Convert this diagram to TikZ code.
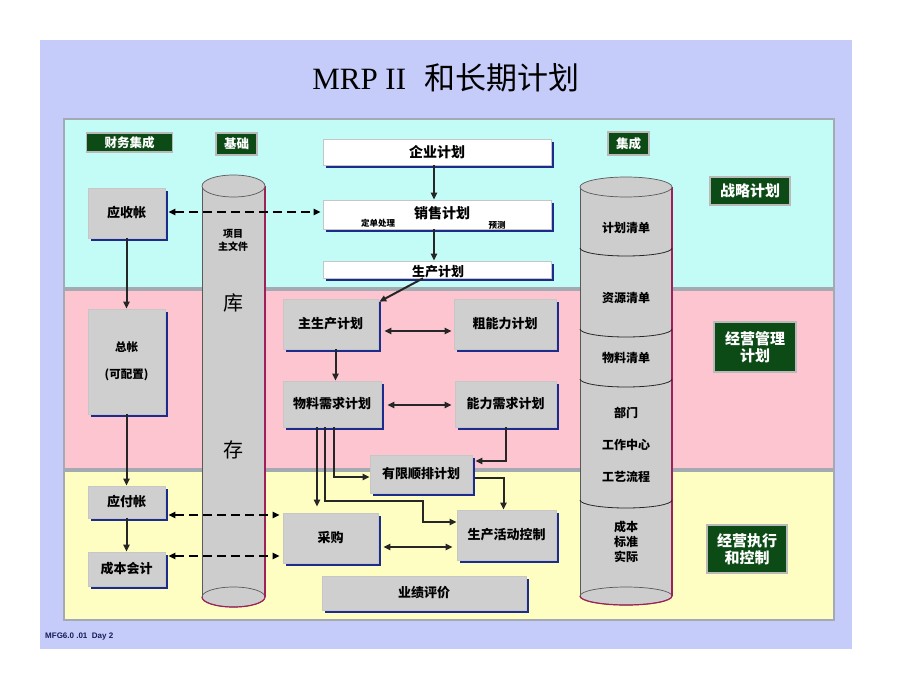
\documentclass[tikz,border=0pt]{standalone}
\usepackage{fontspec}
\setmainfont{Noto Sans CJK SC}
\newfontfamily\latinserif{Liberation Serif}
\newfontfamily\footfont{Liberation Sans}
\usetikzlibrary{arrows.meta,shadows,calc}
\definecolor{lav}{HTML}{C5CCFA}
\definecolor{cyanband}{HTML}{C3FBF6}
\definecolor{pinkband}{HTML}{FCC5CF}
\definecolor{yelband}{HTML}{FEFDC2}
\definecolor{bandline}{HTML}{A4AAB2}
\definecolor{boxgrey}{HTML}{CFCFCF}
\definecolor{navy}{HTML}{1C2C8C}
\definecolor{dkgreen}{HTML}{0C4A16}
\definecolor{cylgrey}{HTML}{CDCDCD}
\definecolor{cylpink}{HTML}{A0205A}
\definecolor{foot}{HTML}{1A1A5A}
\tikzset{
  gbox/.style={fill=boxgrey, draw=gray!45, line width=0.6pt, inner sep=0pt,
    font=\bfseries\fontsize{13}{15}\selectfont,
    drop shadow={shadow xshift=3pt, shadow yshift=-3pt, opacity=1, fill=navy}},
  wbox/.style={gbox, fill=white},
  btext/.style={font=\bfseries\fontsize{13}{15}\selectfont, inner sep=0pt},
  stext/.style={font=\bfseries\fontsize{8.5}{10}\selectfont, inner sep=0pt},
  ctext/.style={font=\bfseries\fontsize{12}{14}\selectfont, inner sep=0pt, align=center},
  glabel/.style={fill=dkgreen, draw=gray!55, line width=1.2pt, text=white, inner sep=0pt,
    align=center, font=\bfseries\fontsize{12.5}{14}\selectfont},
  biglabel/.style={glabel, font=\bfseries\fontsize{15}{17}\selectfont},
  arr/.style={-{Triangle[length=7pt,width=6pt]}, line width=2pt, draw=black!85},
  barr/.style={{Triangle[length=7pt,width=6pt]}-{Triangle[length=7pt,width=6pt]}, line width=2pt, draw=black!85},
  darr/.style={{Triangle[length=7pt,width=6pt]}-{Triangle[length=7pt,width=6pt]}, line width=2.3pt, dash pattern=on 9pt off 5pt},
}
\begin{document}
\begin{tikzpicture}[x=1pt,y=-1pt]
\useasboundingbox (0,0) rectangle (920,690);
\fill[white] (0,0) rectangle (920,690);
\fill[lav] (40,40) rectangle (852,649);
% bands
\draw[fill=cyanband, draw=bandline, line width=2.5pt] (64,119) rectangle (834,288);
\draw[fill=pinkband, draw=bandline, line width=2.5pt] (64,290) rectangle (834,469);
\draw[fill=yelband, draw=bandline, line width=2.5pt] (64,471) rectangle (834,620);
% title
\node[inner sep=0pt] (title) at (446,78) {\fontsize{31}{34}\selectfont{\latinserif MRP II}\hspace{0.6em}和长期计划};
% footer
\node[anchor=west, inner sep=0pt, text=foot] (footer) at (45,637) {\footfont\bfseries\fontsize{8}{9}\selectfont MFG6.0 .01\ \ Day 2};
% green labels
\node[glabel, minimum width=86pt, minimum height=19pt] (lcw) at (129.5,142.5) {财务集成};
\node[glabel, minimum width=41pt, minimum height=22pt] (ljc) at (236.5,144) {基础};
\node[glabel, minimum width=41pt, minimum height=23pt] (ljch) at (628.5,143.5) {集成};
\node[biglabel, minimum width=80pt, minimum height=28pt] (lzl) at (750,191) {战略计划};
\node[biglabel, minimum width=82pt, minimum height=50pt] (ljy) at (755,347) {经营管理\\计划};
\node[biglabel, minimum width=80pt, minimum height=48pt] (ljz) at (747,549) {经营执行\\和控制};
% left cylinder
\fill[cylgrey] (202,186) rectangle (265,597);
\draw[fill=cylgrey, draw=gray!70!black, line width=0.7pt] (233.5,597) ellipse[x radius=31.5pt, y radius=10pt];
\draw[cylpink, line width=1.2pt] (233.5,597) ++(-31.5pt,0) arc[start angle=180, end angle=360, x radius=31.5pt, y radius=10pt];
\draw[gray!70!black, line width=0.7pt] (202,186) -- (202,597);
\draw[cylpink, line width=1.6pt] (265,186) -- (265,597);
\draw[fill=cylgrey, draw=gray!70!black, line width=0.7pt] (233.5,186) ellipse[x radius=31.5pt, y radius=11pt];
\node[stext, align=center, font=\bfseries\fontsize{10}{13}\selectfont] (xm) at (233,240) {项目\\主文件};
\node[inner sep=0pt, font=\fontsize{20}{22}\selectfont] (ku) at (233,303) {库};
\node[inner sep=0pt, font=\fontsize{20}{22}\selectfont] (cun) at (233,450) {存};
% right cylinder
\fill[cylgrey] (580,187) rectangle (672,596);
\draw[fill=cylgrey, draw=gray!70!black, line width=0.7pt] (626,596) ellipse[x radius=46pt, y radius=9pt];
\draw[cylpink, line width=1.2pt] (626,596) ++(-46pt,0) arc[start angle=180, end angle=360, x radius=46pt, y radius=9pt];
\draw[gray!70!black, line width=0.7pt] (580,187) -- (580,596);
\draw[cylpink, line width=1.6pt] (672,187) -- (672,596);
\draw[fill=cylgrey, draw=gray!70!black, line width=0.7pt] (626,187) ellipse[x radius=46pt, y radius=10pt];
\foreach \yy in {248,329,379,500}{
  \draw[gray!30!black, line width=0.8pt] (580,\yy) arc[start angle=180, end angle=360, x radius=46pt, y radius=8pt];
}
\node[ctext] (c1) at (626,228) {计划清单};
\node[ctext] (c2) at (626,298) {资源清单};
\node[ctext] (c3) at (626,358) {物料清单};
\node[ctext] (c4) at (626,413) {部门};
\node[ctext] (c5) at (626,445) {工作中心};
\node[ctext] (c6) at (626,477) {工艺流程};
\node[ctext, font=\bfseries\fontsize{12}{15}\selectfont] (c7) at (626,542) {成本\\标准\\实际};
% left column boxes
\node[gbox, minimum width=77pt, minimum height=50pt] (ysz) at (126.5,213) {应收帐};
\node[gbox, minimum width=77pt, minimum height=105pt, align=center, font=\bfseries\fontsize{11.5}{13}\selectfont] (zz) at (126.5,361.5) {总帐\\[14pt](可配置)};
\node[gbox, minimum width=77pt, minimum height=32pt] (yfz) at (126.5,502) {应付帐};
\node[gbox, minimum width=77pt, minimum height=34pt] (cbkj) at (126.5,569) {成本会计};
% top plan boxes
\node[wbox, minimum width=228pt, minimum height=26pt, font=\bfseries\fontsize{14}{16}\selectfont] (qy) at (437,152) {企业计划};
\node[wbox, minimum width=228pt, minimum height=29pt] (xs) at (437,214.5) {};
\node[btext, font=\bfseries\fontsize{14}{16}\selectfont] (xstxt) at (442,213) {销售计划};
\node[stext] (ddcl) at (378,223) {定单处理};
\node[stext] (yc) at (497,225) {预测};
\node[wbox, minimum width=228pt, minimum height=17pt] (sp) at (437,269.5) {};
\node[btext] (sptxt) at (438,272) {生产计划};
% middle boxes
\node[gbox, minimum width=95pt, minimum height=50pt] (zs) at (330.5,324) {主生产计划};
\node[gbox, minimum width=102pt, minimum height=50pt] (cn) at (505,324) {粗能力计划};
\node[gbox, minimum width=98pt, minimum height=46pt] (wl) at (332,404) {物料需求计划};
\node[gbox, minimum width=101pt, minimum height=46pt] (nl) at (505.5,404) {能力需求计划};
\node[gbox, minimum width=102pt, minimum height=38pt] (yx) at (421,474) {有限顺排计划};
\node[gbox, minimum width=95pt, minimum height=50pt] (cg) at (330.5,538) {采购};
\node[gbox, minimum width=99pt, minimum height=50pt] (sc) at (506.5,535) {生产活动控制};
\node[gbox, minimum width=204pt, minimum height=34pt] (yj) at (424,593) {业绩评价};
% connectors
\draw[arr] (qy.south) ++(-3pt,0) -- ([xshift=-3pt]xs.north);
\draw[arr] ([xshift=-3pt]xs.south) -- ([xshift=-3pt]sp.north);
\draw[arr] ([xshift=-14pt]sp.south) -- ([xshift=1pt,yshift=-3pt]zs.north east);
\draw[arr] (zs.south) ++(5pt,0) -- ([xshift=3.5pt]wl.north);
\draw[barr, shorten <=6pt, shorten >=2pt] ([yshift=-7pt]zs.east) -- ([yshift=-7pt]zs.east -| cn.west);
\draw[barr, shorten <=6pt, shorten >=3pt] ([yshift=-1pt]wl.east) -- ([yshift=-1pt]wl.east -| nl.west);
\draw[barr, shorten <=5pt, shorten >=4pt] ([yshift=-9pt]cg.east) -- ([yshift=-9pt]cg.east -| sc.west);
\draw[arr] ([xshift=-15pt]wl.south) -- ([xshift=-15pt,yshift=6pt]wl.south |- cg.north);
\draw[arr] ([xshift=2pt]wl.south) |- ([yshift=-3pt]yx.west);
\coordinate (k1) at (423,501);
\draw[arr] ([xshift=-7pt]wl.south) |- (k1) |- ([yshift=13pt]sc.west);
\draw[arr] (nl.south) |- ([yshift=13pt,xshift=3pt]yx.east);
\draw[arr] ([yshift=-4pt,xshift=3pt]yx.east) -| ([xshift=-3pt]sc.north);
\draw[arr] (ysz.south) -- (zz.north);
\draw[arr] (zz.south) -- (yfz.north);
\draw[arr] (yfz.south) -- (cbkj.north);
\draw[darr, shorten >=2pt] ([xshift=3pt,yshift=1pt]ysz.east) -- ([yshift=1pt]ysz.east -| xs.west);
\draw[darr, shorten >=3pt] ([xshift=3pt,yshift=-13pt]yfz.east) -- ([yshift=-13pt]yfz.east -| cg.west);
\draw[darr, shorten >=3pt] ([xshift=3pt,yshift=13pt]cbkj.east) -- ([yshift=13pt]cbkj.east -| cg.west);
\end{tikzpicture}
\end{document}
